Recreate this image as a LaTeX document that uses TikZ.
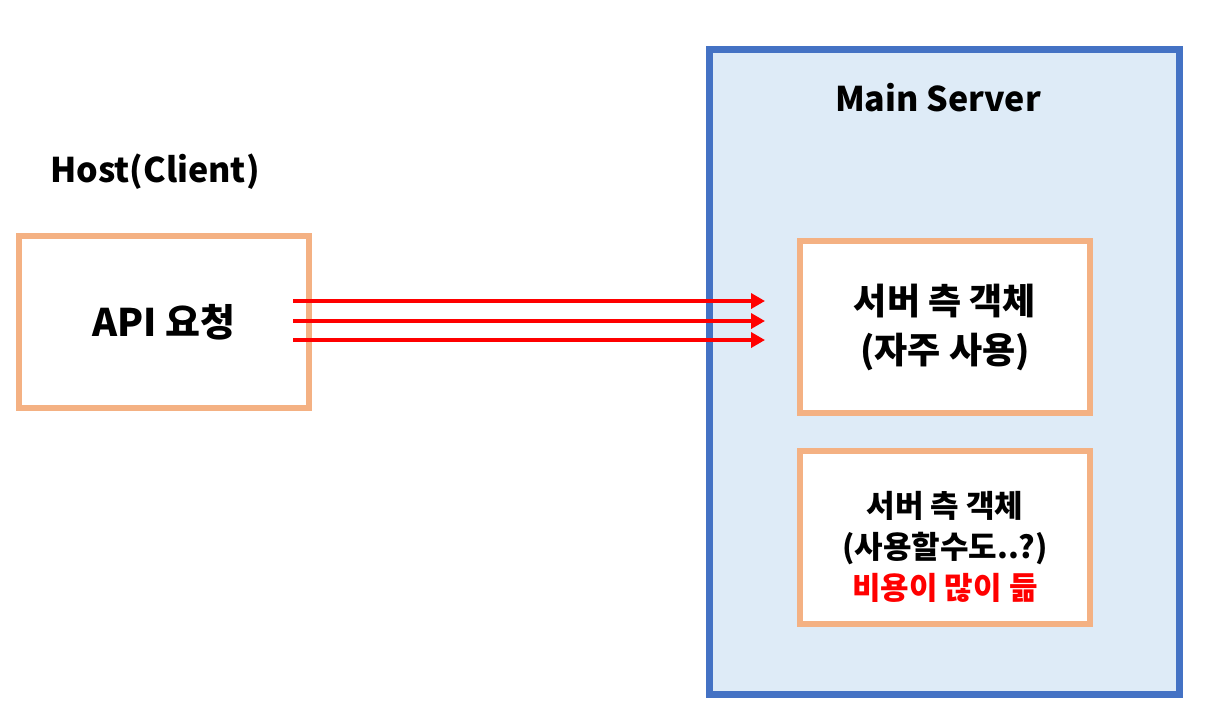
\documentclass[tikz,border=0pt]{standalone}
\usepackage{fontspec}
\setmainfont{Noto Sans CJK KR}
\usetikzlibrary{arrows.meta}

\definecolor{boxorange}{HTML}{F4B183}
\definecolor{srvblue}{HTML}{4472C4}
\definecolor{srvfill}{HTML}{DEEBF7}

\tikzset{
  objbox/.style={draw=boxorange, line width=3pt, fill=white, inner sep=0pt,
    minimum width=145pt, minimum height=86pt, align=center, font=\bfseries\fontsize{18}{24.5}\selectfont},
  req/.style={red, line width=2pt, -{Triangle[length=7pt,width=7.5pt]}},
}

\begin{document}
\begin{tikzpicture}[x=0.5pt,y=-0.5pt]
    \useasboundingbox (0,0) rectangle (1214,719);

    % server side
    \node [draw=srvblue, fill=srvfill, line width=3.5pt, inner sep=0pt,
           minimum width=235pt, minimum height=322.5pt] (server) at (944,371.5) {};
    \node [font=\bfseries\fontsize{17}{22}\selectfont] (srvtitle) at (938,98) {Main Server};

    \node [objbox] (obj1) at (945,327) {서버 측 객체\\(자주 사용)};
    \node [objbox, minimum height=86.5pt, font=\bfseries\fontsize{15.5}{20.5}\selectfont]
          (obj2) at (945,537.5) {\raisebox{-10pt}[0pt][0pt]{\begin{tabular}{@{}c@{}}서버 측 객체\\(사용할수도..?)\\\textcolor{red}{비용이 많이 듦}\end{tabular}}};

    % client side
    \node [font=\bfseries\fontsize{17}{22}\selectfont] (hosttitle) at (155,172) {Host(Client)};
    \node [objbox, font=\bfseries\fontsize{19}{24}\selectfont] (host) at (164,322) {API 요청};

    % requests
    \foreach \y in {301,321,340}
        \draw [req, shorten <=-9.5pt, shorten >=16pt] (host.east |- 0,\y) -- (obj1.west |- 0,\y);

\end{tikzpicture}
\end{document}
